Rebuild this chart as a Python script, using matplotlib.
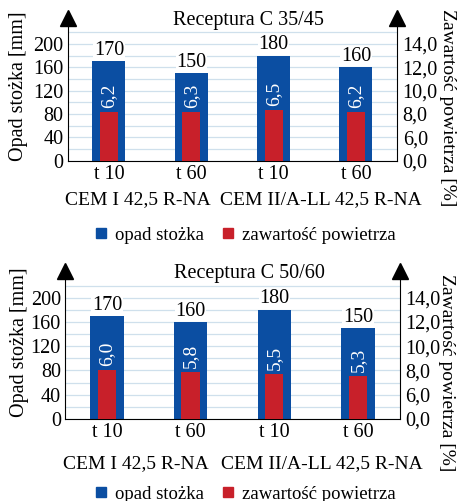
import matplotlib
matplotlib.use('Agg')
import matplotlib.pyplot as plt
from matplotlib.lines import Line2D

plt.rcParams['font.family'] = ['Liberation Serif', 'DejaVu Serif']

categories = ['t 10', 't 60', 't 10', 't 60']
groups = ['CEM I 42,5 R-NA', 'CEM II/A-LL 42,5 R-NA']
slump_c35 = [170, 150, 180, 160]
air_c35 = [6.2, 6.3, 6.5, 6.2]
slump_c50 = [170, 160, 180, 150]
air_c50 = [6.0, 5.8, 5.5, 5.3]
left_ticks = [0, 40, 80, 120, 160, 200]
right_tick_labels = ['0,0', '6,0', '8,0', '10,0', '12,0', '14,0']

BLUE = '#0b4ea2'
RED = '#c8202a'
GRID = '#cfe0ec'
FS = 14.5


def panel(fig, rect, title, slump, air, group_y, legend_y, llabel_x, rlabel_x, rlabel_y):
    ax = fig.add_axes(rect)
    x = range(len(categories))
    ax.bar(x, slump, width=0.4, color=BLUE, zorder=2)
    ax.set_xlim(-0.5, 3.5)
    ax.set_ylim(0, 245)
    ax.set_yticks(left_ticks)
    ax.set_yticks(range(20, 240, 20), minor=True)
    ax.grid(axis='y', which='both', color=GRID, lw=0.9, zorder=0)
    ax.tick_params(axis='y', which='both', length=0, labelsize=FS, pad=3)
    ax.tick_params(axis='x', length=0, labelsize=FS, pad=3)
    ax.set_xticks(list(x))
    ax.set_xticklabels(categories)
    for s in ['top', 'right']:
        ax.spines[s].set_visible(False)
    for i, v in enumerate(slump):
        ax.annotate(str(v), (i, v), xytext=(0, 1), textcoords='offset points',
                    ha='center', va='bottom', fontsize=FS, zorder=4,
                    bbox=dict(facecolor='white', edgecolor='none', pad=0.5))

    ax2 = ax.twinx()
    ax2.bar(x, air, width=0.22, color=RED, zorder=3)
    ax2.set_ylim(0, 245 * 15 / 200)
    ax2.set_yticks([0, 3, 6, 9, 12, 15])
    ax2.set_yticklabels(right_tick_labels)
    ax2.tick_params(axis='y', length=0, labelsize=FS, pad=4)
    for s in ['top', 'left', 'bottom']:
        ax2.spines[s].set_visible(False)
    for i, v in enumerate(air):
        ax2.annotate(f'{v:.1f}'.replace('.', ','), (i, v), xytext=(0, 3),
                     textcoords='offset points', ha='center', va='bottom',
                     rotation=90, color='white', fontsize=14)

    # arrow heads on the vertical axes
    for xa in [0, 1]:
        ax.plot([xa], [1.0], marker='^', color='black', markersize=11,
                transform=ax.transAxes, clip_on=False, zorder=5)

    ax.text(0.55, 0.98, title, transform=ax.transAxes, ha='center', va='center',
            fontsize=FS)
    ax.set_ylabel('Opad stożka [mm]', fontsize=FS)
    ax.yaxis.set_label_coords(llabel_x, 0.52)
    ax2.set_ylabel('Zawartość powietrza [%]', fontsize=14, rotation=-90,
                   va='center')
    ax2.yaxis.set_label_coords(rlabel_x, rlabel_y)

    ax.text(0.35, group_y, groups[0], transform=ax.get_xaxis_transform(),
            ha='center', va='center', fontsize=14)
    ax.text(2.57, group_y, groups[1], transform=ax.get_xaxis_transform(),
            ha='center', va='center', fontsize=14)

    handles = [Line2D([], [], marker='s', color=BLUE, ls='none', markersize=7),
               Line2D([], [], marker='s', color=RED, ls='none', markersize=7)]
    fig.legend(handles, ['opad stożka', 'zawartość powietrza'], ncol=2,
               loc='center', bbox_to_anchor=(0.535, legend_y), frameon=False,
               fontsize=13.5, handlelength=0.7, handletextpad=0.4,
               columnspacing=0.9)
    return ax


fig = plt.figure(figsize=(4.58, 5.01), dpi=100)
panel(fig, [0.148, 0.679, 0.719, 0.286], 'Receptura C 35/45',
      slump_c35, air_c35, -0.27, 0.53, -0.12, 1.152, 0.37)
panel(fig, [0.142, 0.164, 0.731, 0.296], 'Receptura C 50/60',
      slump_c50, air_c50, -0.30, 0.014, -0.108, 1.140, 0.31)
fig.savefig('out.png', dpi=100)
